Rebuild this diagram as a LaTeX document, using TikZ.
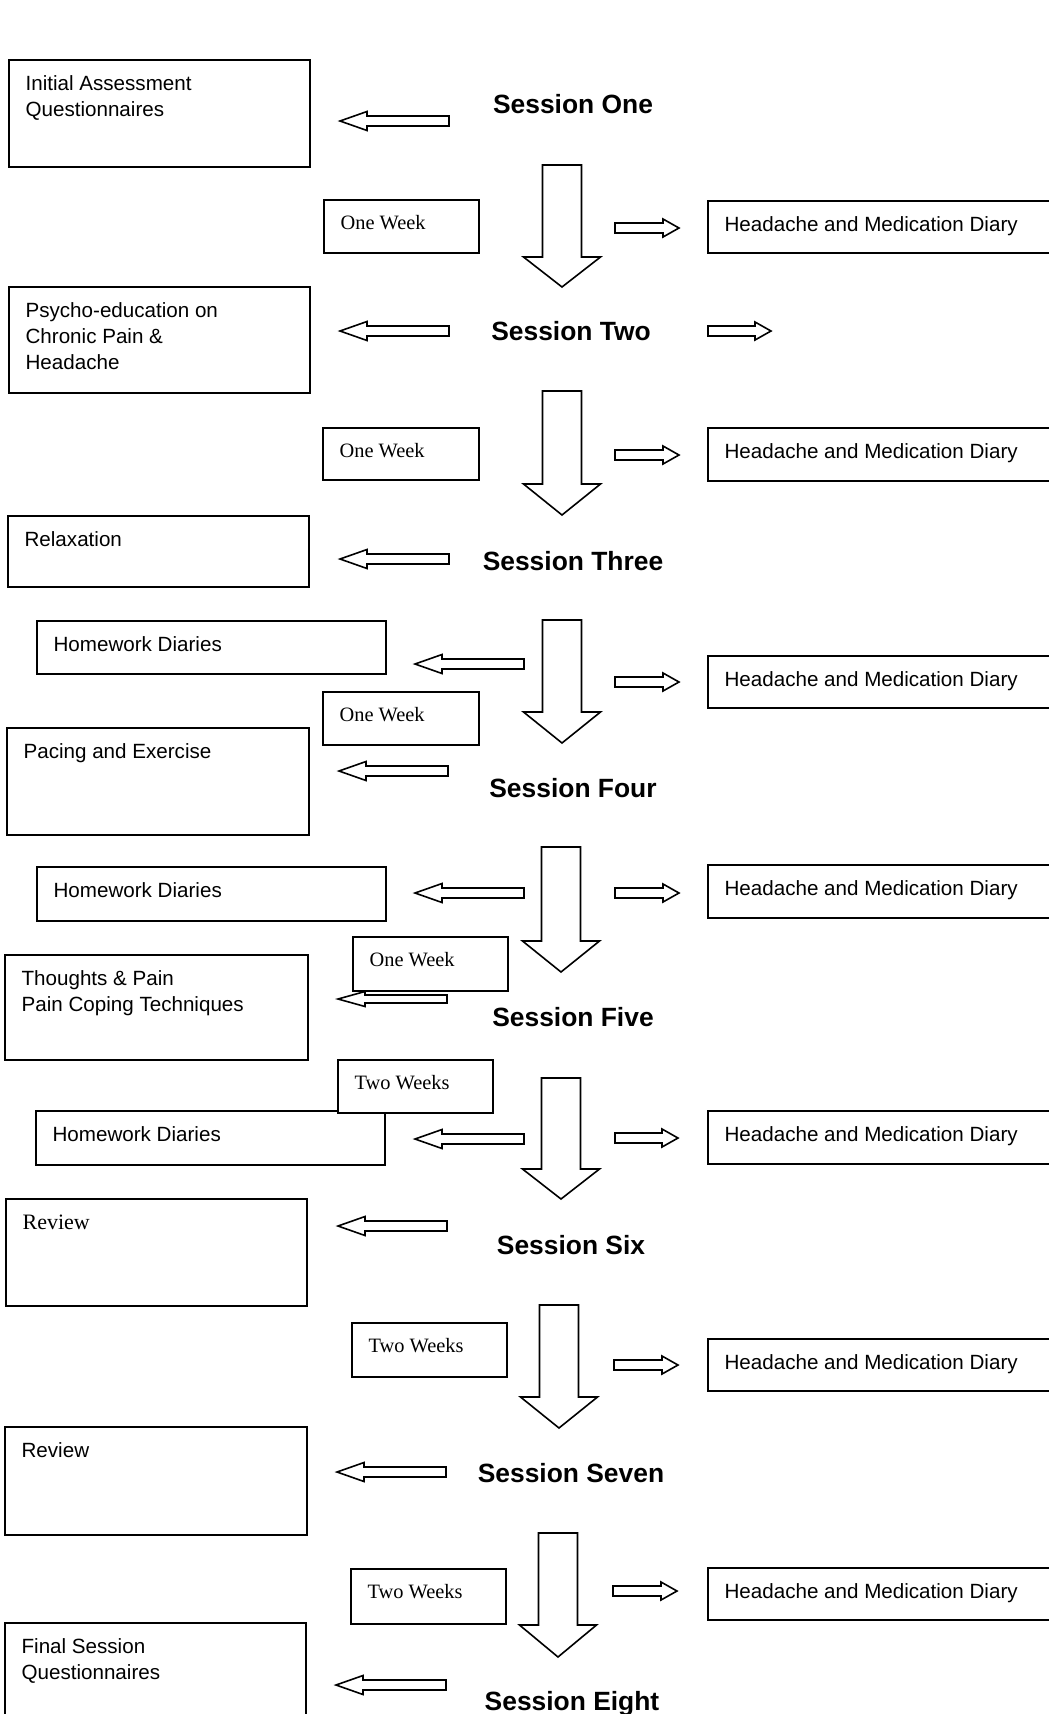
\documentclass[tikz,border=0pt]{standalone}
\usepackage{fontspec}
\setmainfont{Liberation Sans}
\newfontfamily\serifface{Liberation Serif}
\usetikzlibrary{fit}
\tikzset{
  box/.style={draw=black, fill=white, line width=0.8pt, inner sep=0pt, rectangle},
  txt/.style={anchor=north west, inner sep=0pt, align=left, font=\fontsize{10.3}{13}\selectfont},
  wtxt/.style={anchor=north west, inner sep=0pt, align=left, font=\serifface\fontsize{10.2}{13}\selectfont},
  rtxt/.style={anchor=north west, inner sep=0pt, align=left, font=\serifface\fontsize{11}{13}\selectfont},
  sess/.style={anchor=base, inner sep=0pt, font=\bfseries\fontsize{13.2}{15}\selectfont},
  blk/.style={draw=black, fill=white, line width=0.8pt, line join=miter}
}
% box: name, x1, y1, x2, y2, text style, text
\newcommand\mybox[7]{%
  \node[box, fit={(#2,#3)(#4,#5)}] (#1) {};
  \node[#6] (#1t) at ([shift={(17,16)}]#1.north west) {#7};}
% left block arrow: tip x, tail x, y
\newcommand\blockL[3]{%
  \draw[blk] (#1,#3) -- (#1+27,#3-9.5) -- (#1+27,#3-5) -- (#2,#3-5) -- (#2,#3+5) -- (#1+27,#3+5) -- (#1+27,#3+9.5) -- cycle;}
% right block arrow: tail x, tip x, y
\newcommand\blockR[3]{%
  \draw[blk] (#1,#3-5) -- (#2-16,#3-5) -- (#2-16,#3-9) -- (#2,#3) -- (#2-16,#3+9) -- (#2-16,#3+5) -- (#1,#3+5) -- cycle;}
% down block arrow: centre x, top y, head y, tip y
\newcommand\blockD[4]{%
  \draw[blk] (#1-19.5,#2) -- (#1+19.5,#2) -- (#1+19.5,#3) -- (#1+38.5,#3) -- (#1,#4) -- (#1-38.5,#3) -- (#1-19.5,#3) -- cycle;}
\begin{document}
\begin{tikzpicture}[x=0.5pt, y=-0.5pt]
\fill[white] (0,0) rectangle (1049,1714);
\useasboundingbox (0,0) rectangle (1049,1714);

% ---- down arrows
\blockD{562}{165}{257}{287}
\blockD{562}{391}{484}{515}
\blockD{562}{620}{712}{743}
\blockD{561}{847}{941}{972}
\blockD{561}{1078}{1169}{1199}
\blockD{559}{1305}{1397}{1428}
\blockD{558}{1533}{1625}{1657}

% ---- left arrows
\blockL{340}{449}{121}
\blockL{340}{449}{331}
\blockL{340}{449}{559}
\blockL{415}{524}{664}
\blockL{339}{448}{771}
\blockL{415}{524}{893}
\draw[blk] (338,999) -- (365,991.5) -- (365,995) -- (447,995) -- (447,1003) -- (365,1003) -- (365,1006.5) -- cycle;
\blockL{415}{524}{1139}
\blockL{338}{447}{1226}
\blockL{337}{446}{1472}
\blockL{336}{446}{1685}

% ---- right arrows
\blockR{615}{679}{228}
\blockR{708}{771}{331}
\blockR{615}{679}{455}
\blockR{615}{679}{682}
\blockR{615}{679}{893}
\blockR{615}{678}{1138}
\blockR{614}{678}{1365}
\blockR{613}{677}{1591}

% ---- left boxes
\mybox{L1}{9}{60}{310}{167}{txt}{Initial Assessment\\Questionnaires}
\mybox{L2}{9}{287}{310}{393}{txt}{Psycho-education on\\Chronic Pain \&\\Headache}
\mybox{L3}{8}{516}{309}{587}{txt}{Relaxation}
\mybox{L4}{7}{728}{309}{835}{txt}{Pacing and Exercise}
\mybox{L5}{5}{955}{308}{1060}{txt}{Thoughts \& Pain\\Pain Coping Techniques}
\mybox{L6}{6}{1199}{307}{1306}{rtxt}{Review}
\mybox{L7}{5}{1427}{307}{1535}{txt}{Review}
\mybox{L8}{5}{1623}{306}{1760}{txt}{Final Session\\Questionnaires}

% ---- homework boxes
\mybox{H1}{37}{621}{386}{674}{txt}{Homework Diaries}
\mybox{H2}{37}{867}{386}{921}{txt}{Homework Diaries}
\mybox{H3}{36}{1111}{385}{1165}{txt}{Homework Diaries}

% ---- week boxes
\mybox{W1}{324}{200}{479}{253}{wtxt}{One Week}
\mybox{W2}{323}{428}{479}{480}{wtxt}{One Week}
\mybox{W3}{323}{692}{479}{745}{wtxt}{One Week}
\mybox{W4}{353}{937}{508}{991}{wtxt}{One Week}
\mybox{W5}{338}{1060}{493}{1113}{wtxt}{Two Weeks}
\mybox{W6}{352}{1323}{507}{1377}{wtxt}{Two Weeks}
\mybox{W7}{351}{1569}{506}{1624}{wtxt}{Two Weeks}

% ---- diary boxes
\mybox{D1}{708}{201}{1070}{253}{txt}{Headache and Medication Diary}
\mybox{D2}{708}{428}{1070}{481}{txt}{Headache and Medication Diary}
\mybox{D3}{708}{656}{1070}{708}{txt}{Headache and Medication Diary}
\mybox{D4}{708}{865}{1070}{918}{txt}{Headache and Medication Diary}
\mybox{D5}{708}{1111}{1070}{1164}{txt}{Headache and Medication Diary}
\mybox{D6}{708}{1339}{1070}{1391}{txt}{Headache and Medication Diary}
\mybox{D7}{708}{1568}{1070}{1620}{txt}{Headache and Medication Diary}

% ---- session labels
\node[sess] (S1) at (573,113) {Session One};
\node[sess] (S2) at (571,340) {Session Two};
\node[sess] (S3) at (573,570) {Session Three};
\node[sess] (S4) at (573,797) {Session Four};
\node[sess] (S5) at (573,1026) {Session Five};
\node[sess] (S6) at (571,1254) {Session Six};
\node[sess] (S7) at (571,1482) {Session Seven};
\node[sess] (S8) at (572,1710) {Session Eight};
\end{tikzpicture}
\end{document}
